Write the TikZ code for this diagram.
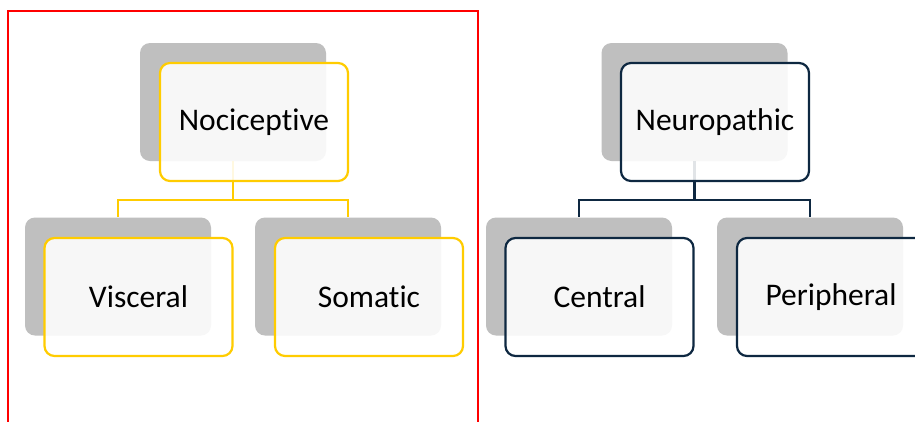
\documentclass[tikz,border=0pt]{standalone}
\usepackage{fontspec}
\setmainfont{Carlito}[Ligatures={NoCommon}]
\definecolor{gold}{HTML}{FFCC00}
\definecolor{navy}{HTML}{0E2841}
\definecolor{shade}{HTML}{BFBFBF}
\definecolor{framered}{HTML}{FF0000}
\begin{document}
\begin{tikzpicture}[x=1pt,y=-1pt,
  back/.style={fill=shade, rounded corners=10pt, minimum width=186pt, minimum height=118pt, inner sep=0pt},
  front/.style={fill=white, fill opacity=0.88, text opacity=1, draw, line width=2.2pt, rounded corners=10pt,
    minimum width=188pt, minimum height=118pt, inner sep=0pt, font=\fontsize{31.5}{36}\selectfont},
  conn/.style={line width=2.2pt}]
\clip (0,0) rectangle (915,421);
\fill[white] (0,0) rectangle (915,421);
% red frame
\draw[framered, line width=2.2pt] (8,440) -- (8,11) -- (478,11) -- (478,440);
% back boxes
\node[back] (nb) at (233,102) {};
\node[back] (vb) at (118,276.5) {};
\node[back] (sb) at (348,276.5) {};
\node[back] (pb) at (694.5,102) {};
\node[back] (cb) at (579,276.5) {};
\node[back] (rb) at (810,276.5) {};
% connectors
\coordinate (nj) at (233,200);
\coordinate (pj) at (694.5,200);
\draw[conn, gold] (nb.south) -- (nj) -| (vb.north);
\draw[conn, gold] (nj) -| (sb.north);
\draw[conn, navy] (pb.south) -- (pj) -| (cb.north);
\draw[conn, navy] (pj) -| (rb.north);
% front boxes
\node[front, draw=gold] (nf) at (254,122) {Nociceptive};
\node[front, draw=gold] (vf) at (138.5,297) {Visceral};
\node[front, draw=gold] (sf) at (369,297) {Somatic};
\node[front, draw=navy] (pf) at (715,122) {Neuropathic};
\node[front, draw=navy] (cf) at (599.5,297) {Central};
\node[front, draw=navy] (rf) at (831,297) {Peripheral};
\end{tikzpicture}
\end{document}
